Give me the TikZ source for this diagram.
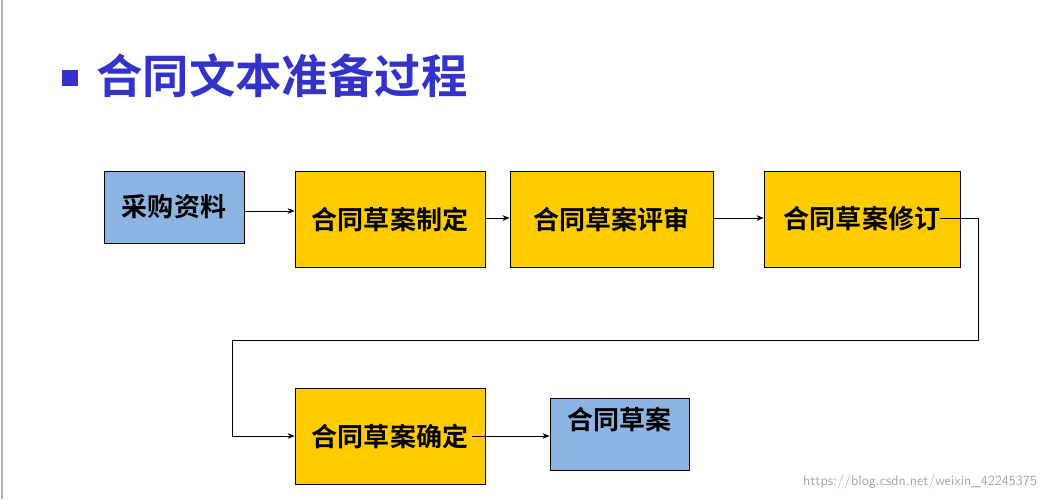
\documentclass[tikz,border=0pt]{standalone}
\usepackage{fontspec}
\newfontfamily\cjk{Noto Sans CJK SC}[BoldFont={Noto Sans CJK SC Bold}]
\usetikzlibrary{arrows.meta}
\definecolor{yel}{HTML}{FFCC00}
\definecolor{blu}{HTML}{8DB4E2}
\definecolor{ttl}{HTML}{3333CC}
\begin{document}
\begin{tikzpicture}[x=0.025cm,y=-0.025cm,
  box/.style={draw=black,line width=0.5pt,inner sep=0pt,font=\cjk\bfseries\fontsize{18.5}{21}\selectfont},
  ybox/.style={box,fill=yel,minimum width=4.75cm,minimum height=2.4cm},
  bbox/.style={box,fill=blu},
  arr/.style={-{Stealth[length=5pt,width=4pt]},line width=0.5pt}]
\useasboundingbox (0,0) rectangle (1050,499);
\fill[white] (0,0) rectangle (1050,499);
\draw[gray!60,line width=1pt] (2,0) -- (2,499);
\node[fill=ttl,minimum size=0.42cm,inner sep=0pt] (sq) at (70,78) {};
\node[anchor=west,text=ttl,font=\cjk\bfseries\fontsize{33}{38}\selectfont,inner sep=0pt] (t) at (96,76) {合同文本准备过程};
\node[bbox,minimum width=3.5cm,minimum height=1.8cm] (a) at (174,207) {采购资料};
\node[ybox] (b) at (390,219.5) {合同草案制定};
\node[ybox,minimum width=5.08cm] (c) at (611.5,219) {合同草案评审};
\node[ybox,minimum width=4.9cm] (d) at (862,219) {合同草案修订};
\node[ybox] (e) at (390,436.5) {合同草案确定};
\node[bbox,minimum width=3.48cm,minimum height=1.8cm] (f) at (619.5,434) {};
\node[font=\cjk\bfseries\fontsize{18.5}{21}\selectfont] (fl) at (619.5,420) {合同草案};
\draw[arr] (a.east |- 0,211) -- (b.west |- 0,211);
\draw[arr] (b.east |- 0,218) -- (c.west |- 0,218);
\draw[arr] (c.east |- 0,218) -- (d.west |- 0,218);
\coordinate (d0) at (940,218);
\coordinate (e0) at (472,436);
\draw[arr] (d0) -- (978,218) -- (978,340) -- (232,340) -- (232,436) -- (e.west |- 0,436);
\draw[arr] (e0) -- (f.west |- 0,436);
\node[anchor=east,text=gray!70,font=\sffamily\fontsize{10}{12}\selectfont] (w) at (1042,482) {https://blog.csdn.net/weixin\_42245375};
\end{tikzpicture}
\end{document}
